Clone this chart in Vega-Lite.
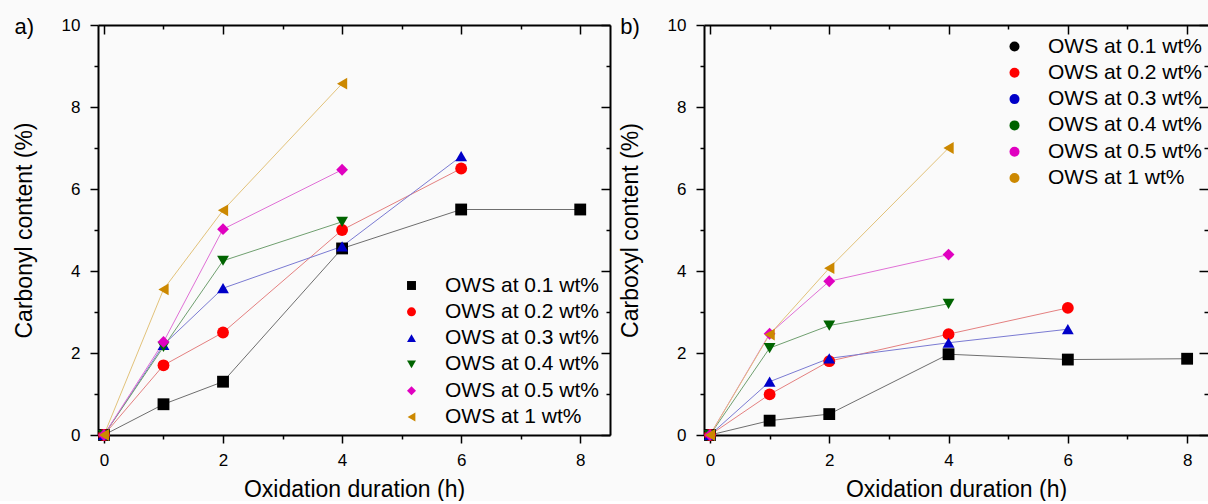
{
  "$schema": "https://vega.github.io/schema/vega-lite/v6.json",
  "background": "#fafafa",
  "padding": {"left": 13, "top": 16, "right": 0, "bottom": 0},
  "config": {"font": "Liberation Sans", "view": {"stroke": null}, "axis": {"grid": false}},
  "datasets": {
    "carbonyl": [
      {"s": "OWS at 0.1 wt%", "x": 0, "y": 0}, {"s": "OWS at 0.1 wt%", "x": 1, "y": 0.75}, {"s": "OWS at 0.1 wt%", "x": 2, "y": 1.3}, {"s": "OWS at 0.1 wt%", "x": 4, "y": 4.55}, {"s": "OWS at 0.1 wt%", "x": 6, "y": 5.5}, {"s": "OWS at 0.1 wt%", "x": 8, "y": 5.5},
      {"s": "OWS at 0.2 wt%", "x": 0, "y": 0}, {"s": "OWS at 0.2 wt%", "x": 1, "y": 1.7}, {"s": "OWS at 0.2 wt%", "x": 2, "y": 2.5}, {"s": "OWS at 0.2 wt%", "x": 4, "y": 5.0}, {"s": "OWS at 0.2 wt%", "x": 6, "y": 6.5},
      {"s": "OWS at 0.3 wt%", "x": 0, "y": 0}, {"s": "OWS at 0.3 wt%", "x": 1, "y": 2.2}, {"s": "OWS at 0.3 wt%", "x": 2, "y": 3.58}, {"s": "OWS at 0.3 wt%", "x": 4, "y": 4.6}, {"s": "OWS at 0.3 wt%", "x": 6, "y": 6.8},
      {"s": "OWS at 0.4 wt%", "x": 0, "y": 0}, {"s": "OWS at 0.4 wt%", "x": 1, "y": 2.15}, {"s": "OWS at 0.4 wt%", "x": 2, "y": 4.25}, {"s": "OWS at 0.4 wt%", "x": 4, "y": 5.2},
      {"s": "OWS at 0.5 wt%", "x": 0, "y": 0}, {"s": "OWS at 0.5 wt%", "x": 1, "y": 2.27}, {"s": "OWS at 0.5 wt%", "x": 2, "y": 5.02}, {"s": "OWS at 0.5 wt%", "x": 4, "y": 6.47},
      {"s": "OWS at 1 wt%", "x": 0, "y": 0}, {"s": "OWS at 1 wt%", "x": 1, "y": 3.55}, {"s": "OWS at 1 wt%", "x": 2, "y": 5.48}, {"s": "OWS at 1 wt%", "x": 4, "y": 8.57}
    ],
    "carboxyl": [
      {"s": "OWS at 0.1 wt% ", "k": "OWS at 0.1 wt%", "x": 0, "y": 0}, {"s": "OWS at 0.1 wt% ", "k": "OWS at 0.1 wt%", "x": 1, "y": 0.35}, {"s": "OWS at 0.1 wt% ", "k": "OWS at 0.1 wt%", "x": 2, "y": 0.51}, {"s": "OWS at 0.1 wt% ", "k": "OWS at 0.1 wt%", "x": 4, "y": 1.97}, {"s": "OWS at 0.1 wt% ", "k": "OWS at 0.1 wt%", "x": 6, "y": 1.84}, {"s": "OWS at 0.1 wt% ", "k": "OWS at 0.1 wt%", "x": 8, "y": 1.86},
      {"s": "OWS at 0.2 wt% ", "k": "OWS at 0.2 wt%", "x": 0, "y": 0}, {"s": "OWS at 0.2 wt% ", "k": "OWS at 0.2 wt%", "x": 1, "y": 0.99}, {"s": "OWS at 0.2 wt% ", "k": "OWS at 0.2 wt%", "x": 2, "y": 1.8}, {"s": "OWS at 0.2 wt% ", "k": "OWS at 0.2 wt%", "x": 4, "y": 2.46}, {"s": "OWS at 0.2 wt% ", "k": "OWS at 0.2 wt%", "x": 6, "y": 3.1},
      {"s": "OWS at 0.3 wt% ", "k": "OWS at 0.3 wt%", "x": 0, "y": 0}, {"s": "OWS at 0.3 wt% ", "k": "OWS at 0.3 wt%", "x": 1, "y": 1.3}, {"s": "OWS at 0.3 wt% ", "k": "OWS at 0.3 wt%", "x": 2, "y": 1.87}, {"s": "OWS at 0.3 wt% ", "k": "OWS at 0.3 wt%", "x": 4, "y": 2.25}, {"s": "OWS at 0.3 wt% ", "k": "OWS at 0.3 wt%", "x": 6, "y": 2.58},
      {"s": "OWS at 0.4 wt% ", "k": "OWS at 0.4 wt%", "x": 0, "y": 0}, {"s": "OWS at 0.4 wt% ", "k": "OWS at 0.4 wt%", "x": 1, "y": 2.12}, {"s": "OWS at 0.4 wt% ", "k": "OWS at 0.4 wt%", "x": 2, "y": 2.67}, {"s": "OWS at 0.4 wt% ", "k": "OWS at 0.4 wt%", "x": 4, "y": 3.2},
      {"s": "OWS at 0.5 wt% ", "k": "OWS at 0.5 wt%", "x": 0, "y": 0}, {"s": "OWS at 0.5 wt% ", "k": "OWS at 0.5 wt%", "x": 1, "y": 2.47}, {"s": "OWS at 0.5 wt% ", "k": "OWS at 0.5 wt%", "x": 2, "y": 3.75}, {"s": "OWS at 0.5 wt% ", "k": "OWS at 0.5 wt%", "x": 4, "y": 4.4},
      {"s": "OWS at 1 wt% ", "k": "OWS at 1 wt%", "x": 0, "y": 0}, {"s": "OWS at 1 wt% ", "k": "OWS at 1 wt%", "x": 1, "y": 2.45}, {"s": "OWS at 1 wt% ", "k": "OWS at 1 wt%", "x": 2, "y": 4.07}, {"s": "OWS at 1 wt% ", "k": "OWS at 1 wt%", "x": 4, "y": 7.0}
    ]
  },
  "spacing": 8,
  "resolve": {
    "scale": {"x": "independent", "y": "independent", "stroke": "independent"},
    "legend": {"stroke": "independent"}
  },
  "hconcat": [
    {
      "width": 512, "height": 410,
      "data": {"name": "carbonyl"},
      "resolve": {"axis": {"x": "independent", "y": "independent"}},
      "layer": [
        {
          "mark": {"type": "line", "strokeWidth": 1},
          "encoding": {
            "x": {"field": "x", "type": "quantitative", "scale": {"domain": [-0.1, 8.5], "nice": false, "zero": false},
              "axis": {"orient": "bottom", "values": [0,1,2,3,4,5,6,7,8], "labelExpr": "datum.value % 2 === 0 ? datum.label : ''",
                "tickSize": {"condition": {"test": "datum.value % 2 === 0", "value": 8}, "value": 4},
                "tickWidth": 1.5, "tickColor": "black", "domainColor": "black", "domainWidth": 2,
                "labelFontSize": 17, "labelColor": "black", "labelPadding": 9, "labelFlush": false, "labelOverlap": false,
                "title": "Oxidation duration (h)", "titleFontSize": 23, "titleFontWeight": "normal", "titleColor": "black", "titlePadding": 10}},
            "y": {"field": "y", "type": "quantitative", "scale": {"domain": [0, 10], "nice": false},
              "axis": {"orient": "left", "values": [0,1,2,3,4,5,6,7,8,9,10], "labelExpr": "datum.value % 2 === 0 ? datum.label : ''",
                "tickSize": {"condition": {"test": "datum.value % 2 === 0", "value": 8}, "value": 4},
                "tickWidth": 1.5, "tickColor": "black", "domainColor": "black", "domainWidth": 2,
                "labelFontSize": 17, "labelColor": "black", "labelPadding": 10, "labelFlush": false, "labelOverlap": false,
                "title": "Carbonyl content (%)", "titleFontSize": 23, "titleFontWeight": "normal", "titleColor": "black", "titlePadding": 25}},
            "stroke": {"field": "s", "type": "nominal", "legend": null, "sort": null,
              "scale": {"range": ["#6e6e6e", "#e48080", "#7a7ad2", "#6f9f6f", "#e070d6", "#e2c27a"]}}
          }
        },
        {
          "mark": {"type": "point", "filled": true, "opacity": 1, "size": 140},
          "encoding": {
            "x": {"field": "x", "type": "quantitative",
              "axis": {"orient": "top", "values": [0,1,2,3,4,5,6,7,8], "labels": false, "title": null,
                "tickSize": {"condition": {"test": "datum.value % 2 === 0", "value": -9}, "value": -4},
                "tickWidth": 1.5, "tickColor": "black", "domainColor": "black", "domainWidth": 2}},
            "y": {"field": "y", "type": "quantitative",
              "axis": {"orient": "right", "values": [0,1,2,3,4,5,6,7,8,9,10], "labels": false, "title": null,
                "tickSize": {"condition": {"test": "datum.value % 2 === 0", "value": -9}, "value": -4},
                "tickWidth": 1.5, "tickColor": "black", "domainColor": "black", "domainWidth": 2}},
            "fill": {"field": "s", "type": "nominal",
              "scale": {"domain": ["OWS at 0.1 wt%", "OWS at 0.2 wt%", "OWS at 0.3 wt%", "OWS at 0.4 wt%", "OWS at 0.5 wt%", "OWS at 1 wt%"],
                "range": ["#000000", "#ff0000", "#0000c8", "#006400", "#e000c0", "#cc8800"]},
              "legend": {"orient": "none", "legendX": 303, "legendY": 250, "title": null, "labelFontSize": 21, "labelColor": "black",
                "symbolSize": 80, "rowPadding": 4.3, "labelOffset": 23}},
            "shape": {"field": "s", "type": "nominal",
              "scale": {"domain": ["OWS at 0.1 wt%", "OWS at 0.2 wt%", "OWS at 0.3 wt%", "OWS at 0.4 wt%", "OWS at 0.5 wt%", "OWS at 1 wt%"],
                "range": ["square", "circle", "triangle-up", "triangle-down", "diamond", "triangle-left"]},
              "legend": {"orient": "none", "legendX": 303, "legendY": 250, "title": null, "labelFontSize": 21, "labelColor": "black",
                "symbolSize": 80, "rowPadding": 4.3, "labelOffset": 23}}
          }
        },
        {
          "data": {"values": [{"t": "a)"}]},
          "mark": {"type": "text", "fontSize": 22, "align": "center", "baseline": "middle", "color": "black"},
          "encoding": {
            "x": {"datum": -1.34, "type": "quantitative", "axis": null},
            "y": {"datum": 9.95, "type": "quantitative", "axis": null},
            "text": {"field": "t"}
          }
        }
      ]
    },
    {
      "width": 504, "height": 410,
      "data": {"name": "carboxyl"},
      "resolve": {"axis": {"x": "independent", "y": "independent"}},
      "layer": [
        {
          "mark": {"type": "line", "strokeWidth": 1},
          "encoding": {
            "x": {"field": "x", "type": "quantitative", "scale": {"domain": [-0.1, 8.35], "nice": false, "zero": false},
              "axis": {"orient": "bottom", "values": [0,1,2,3,4,5,6,7,8], "labelExpr": "datum.value % 2 === 0 ? datum.label : ''",
                "tickSize": {"condition": {"test": "datum.value % 2 === 0", "value": 8}, "value": 4},
                "tickWidth": 1.5, "tickColor": "black", "domainColor": "black", "domainWidth": 2,
                "labelFontSize": 17, "labelColor": "black", "labelPadding": 9, "labelFlush": false, "labelOverlap": false,
                "title": "Oxidation duration (h)", "titleFontSize": 23, "titleFontWeight": "normal", "titleColor": "black", "titlePadding": 10}},
            "y": {"field": "y", "type": "quantitative", "scale": {"domain": [0, 10], "nice": false},
              "axis": {"orient": "left", "values": [0,1,2,3,4,5,6,7,8,9,10], "labelExpr": "datum.value % 2 === 0 ? datum.label : ''",
                "tickSize": {"condition": {"test": "datum.value % 2 === 0", "value": 8}, "value": 4},
                "tickWidth": 1.5, "tickColor": "black", "domainColor": "black", "domainWidth": 2,
                "labelFontSize": 17, "labelColor": "black", "labelPadding": 10, "labelFlush": false, "labelOverlap": false,
                "title": "Carboxyl content (%)", "titleFontSize": 23, "titleFontWeight": "normal", "titleColor": "black", "titlePadding": 25}},
            "stroke": {"field": "s", "type": "nominal", "legend": null, "sort": null,
              "scale": {"range": ["#6e6e6e", "#e48080", "#7a7ad2", "#6f9f6f", "#e070d6", "#e2c27a"]}}
          }
        },
        {
          "mark": {"type": "point", "filled": true, "opacity": 1, "size": 140},
          "encoding": {
            "x": {"field": "x", "type": "quantitative",
              "axis": {"orient": "top", "values": [0,1,2,3,4,5,6,7,8], "labels": false, "title": null,
                "tickSize": {"condition": {"test": "datum.value % 2 === 0", "value": -9}, "value": -4},
                "tickWidth": 1.5, "tickColor": "black", "domainColor": "black", "domainWidth": 2}},
            "y": {"field": "y", "type": "quantitative",
              "axis": {"orient": "right", "values": [0,1,2,3,4,5,6,7,8,9,10], "labels": false, "title": null, "domain": false,
                "tickSize": {"condition": {"test": "datum.value % 2 === 0", "value": -9}, "value": -4},
                "tickWidth": 1.5, "tickColor": "black"}},
            "color": {"field": "s", "type": "nominal",
              "scale": {"domain": ["OWS at 0.1 wt% ", "OWS at 0.2 wt% ", "OWS at 0.3 wt% ", "OWS at 0.4 wt% ", "OWS at 0.5 wt% ", "OWS at 1 wt% "],
                "range": ["#000000", "#ff0000", "#0000c8", "#006400", "#e000c0", "#cc8800"]},
              "legend": {"orient": "none", "legendX": 906, "legendY": 11, "title": null, "labelFontSize": 21, "labelColor": "black",
                "symbolSize": 100, "rowPadding": 4.3, "labelOffset": 23,
                "encode": {"symbols": {
                  "shape": {"condition": [
                    {"test": "datum.value === 'OWS at 0.1 wt% '", "value": "M-4.7,0H-0.8M0.8,0H4.7M-0.8,-0.8H0.8V0.8H-0.8Z"},
                    {"test": "datum.value === 'OWS at 0.2 wt% '", "value": "M-4.7,0H-0.9M0.9,0H4.7M-0.9,0A0.9,0.9,0,1,1,0.9,0A0.9,0.9,0,1,1,-0.9,0Z"},
                    {"test": "datum.value === 'OWS at 0.3 wt% '", "value": "M-4.7,0H-0.9M0.9,0H4.7M0,-1L1.05,0.8H-1.05Z"},
                    {"test": "datum.value === 'OWS at 0.4 wt% '", "value": "M-4.7,0H-0.9M0.9,0H4.7M0,1L1.05,-0.8H-1.05Z"},
                    {"test": "datum.value === 'OWS at 0.5 wt% '", "value": "M-4.7,0H-1M1,0H4.7M0,-1.05L1,0L0,1.05L-1,0Z"}
                  ], "value": "M-4.7,0H-0.9M0.9,0H4.7M-1,0L0.8,-1.05V1.05Z"},
                  "stroke": {"condition": [
                    {"test": "datum.value === 'OWS at 0.1 wt% '", "value": "#6e6e6e"},
                    {"test": "datum.value === 'OWS at 0.2 wt% '", "value": "#e48080"},
                    {"test": "datum.value === 'OWS at 0.3 wt% '", "value": "#7a7ad2"},
                    {"test": "datum.value === 'OWS at 0.4 wt% '", "value": "#6f9f6f"},
                    {"test": "datum.value === 'OWS at 0.5 wt% '", "value": "#e070d6"}
                  ], "value": "#e2c27a"},
                  "strokeWidth": {"value": 1}
                }}}},
            "shape": {"field": "k", "type": "nominal", "legend": null,
              "scale": {"domain": ["OWS at 0.1 wt%", "OWS at 0.2 wt%", "OWS at 0.3 wt%", "OWS at 0.4 wt%", "OWS at 0.5 wt%", "OWS at 1 wt%"],
                "range": ["square", "circle", "triangle-up", "triangle-down", "diamond", "triangle-left"]}}
          }
        },
        {
          "data": {"values": [{"t": "b)"}]},
          "mark": {"type": "text", "fontSize": 22, "align": "center", "baseline": "middle", "color": "black"},
          "encoding": {
            "x": {"datum": -1.34, "type": "quantitative", "axis": null},
            "y": {"datum": 9.95, "type": "quantitative", "axis": null},
            "text": {"field": "t"}
          }
        }
      ]
    }
  ]
}
